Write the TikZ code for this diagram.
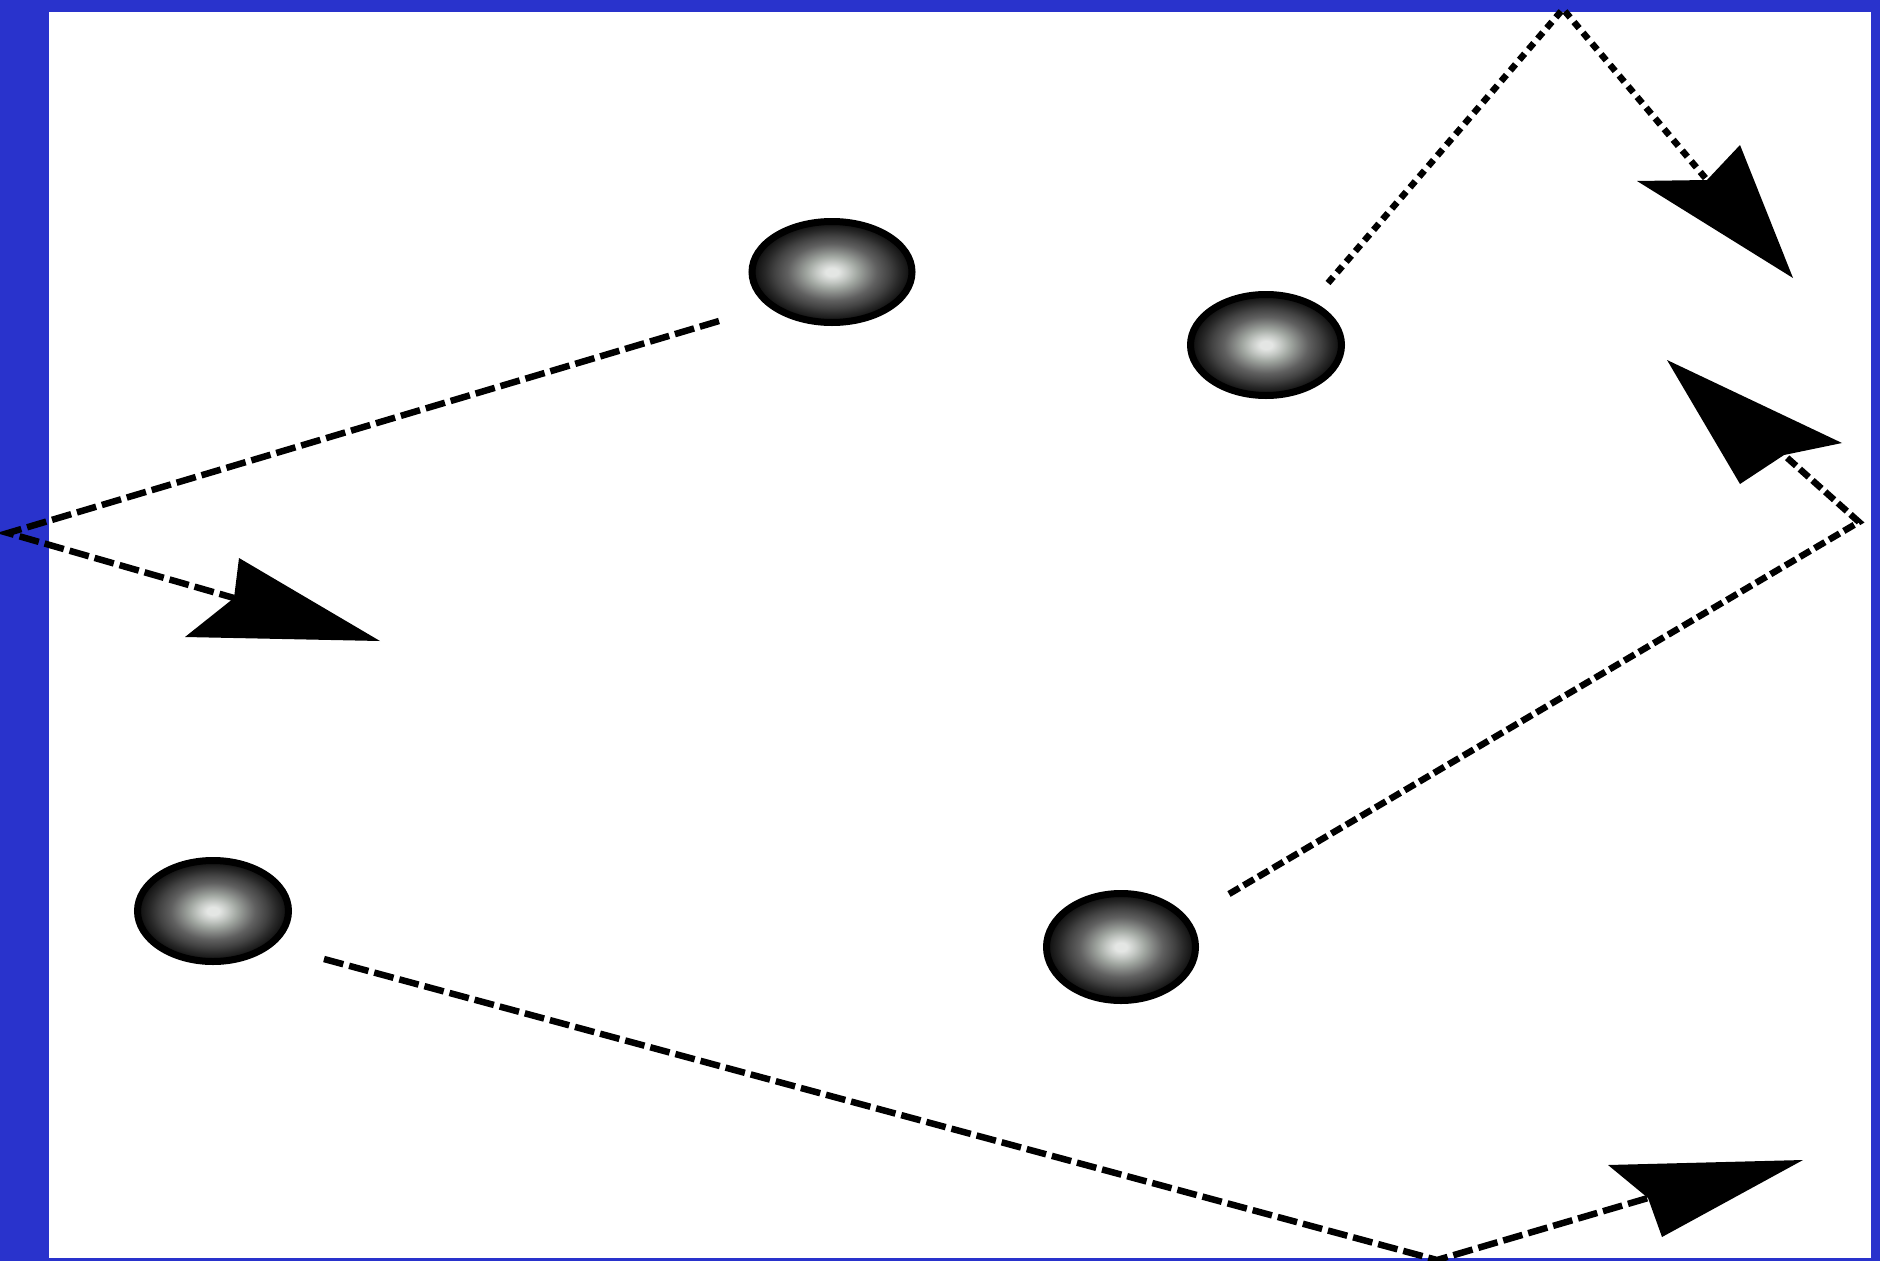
\documentclass[tikz,border=0pt]{standalone}
\usetikzlibrary{shapes.geometric}
\definecolor{bgblue}{RGB}{41,51,204}
\definecolor{shA}{RGB}{228,230,228}
\definecolor{shB}{RGB}{196,200,196}
\definecolor{shC}{RGB}{160,166,160}
\definecolor{shD}{RGB}{128,130,128}
\definecolor{shE}{RGB}{96,96,96}
\definecolor{shF}{RGB}{66,66,66}
\definecolor{shG}{RGB}{40,40,40}
\definecolor{shH}{RGB}{18,18,18}
\pgfdeclareradialshading{sphereshade}{\pgfpoint{0bp}{0bp}}{%
  color(0bp)=(shA); color(2bp)=(shA); color(5bp)=(shB); color(8bp)=(shC);
  color(11bp)=(shD); color(14bp)=(shE); color(18bp)=(shF); color(21bp)=(shG);
  color(24bp)=(shH); color(25bp)=(black); color(50bp)=(black)}
\tikzset{
  sphere/.style={ellipse, inner sep=0pt, shading=sphereshade, draw=black, line width=7pt},
  wire/.style={draw=black, line width=6.5pt, line join=miter},
  wireflat/.style={wire, dash pattern=on 20pt off 6pt},
  wiremid/.style={wire, dash pattern=on 12pt off 5pt},
  wiresteep/.style={wire, dash pattern=on 8pt off 6pt},
  head/.style={fill=black}
}
\begin{document}
\begin{tikzpicture}[x=1pt,y=-1pt]
\useasboundingbox (0,0) rectangle (1880,1261);
\fill[bgblue] (0,0) rectangle (1880,1261);
\fill[white] (49,12) rectangle (1871,1258);

% spheres
\node[sphere, minimum width=160pt, minimum height=101pt] (s1) at (832,272) {};
\node[sphere, minimum width=151pt, minimum height=101pt] (s2) at (1266,345) {};
\node[sphere, minimum width=151pt, minimum height=101pt] (s3) at (213,911) {};
\node[sphere, minimum width=149pt, minimum height=107pt] (s4) at (1121,947) {};

% path 1
\coordinate (p1s) at (719,321);
\coordinate (p1a) at (8,533);
\coordinate (p1n) at (234,598);
\coordinate (p1ba) at (239,558);
\coordinate (p1bb) at (185,637);
\coordinate (p1t) at (380,641);
\draw[wireflat] (p1s) -- (p1a) -- (p1n);
\fill[head] (p1ba) -- (p1n) -- (p1bb) -- (p1t) -- cycle;

% path 2
\coordinate (p2s) at (1328,283);
\coordinate (p2a) at (1563,9);
\coordinate (p2n) at (1707,180);
\coordinate (p2ba) at (1740,145);
\coordinate (p2bb) at (1637,181);
\coordinate (p2t) at (1793,278);
\draw[wiresteep] (p2s) -- (p2a) -- (p2n);
\fill[head] (p2bb) -- (p2n) -- (p2ba) -- (p2t) -- cycle;

% path 3
\coordinate (p3s) at (1229,894);
\coordinate (p3a) at (1859,522);
\coordinate (p3n) at (1784,455);
\coordinate (p3br) at (1842,443);
\coordinate (p3bb) at (1740,484);
\coordinate (p3t) at (1667,360);
\draw[wiremid] (p3s) -- (p3a) -- (p3n);
\fill[head] (p3t) -- (p3br) -- (p3n) -- (p3bb) -- cycle;

% path 4
\coordinate (p4s) at (324,959);
\coordinate (p4a) at (1437,1260);
\coordinate (p4n) at (1648,1198);
\coordinate (p4bl) at (1608,1165);
\coordinate (p4bb) at (1662,1237);
\coordinate (p4t) at (1803,1160);
\draw[wireflat] (p4s) -- (p4a) -- (p4n);
\fill[head] (p4bl) -- (p4t) -- (p4bb) -- (p4n) -- cycle;
\end{tikzpicture}
\end{document}
